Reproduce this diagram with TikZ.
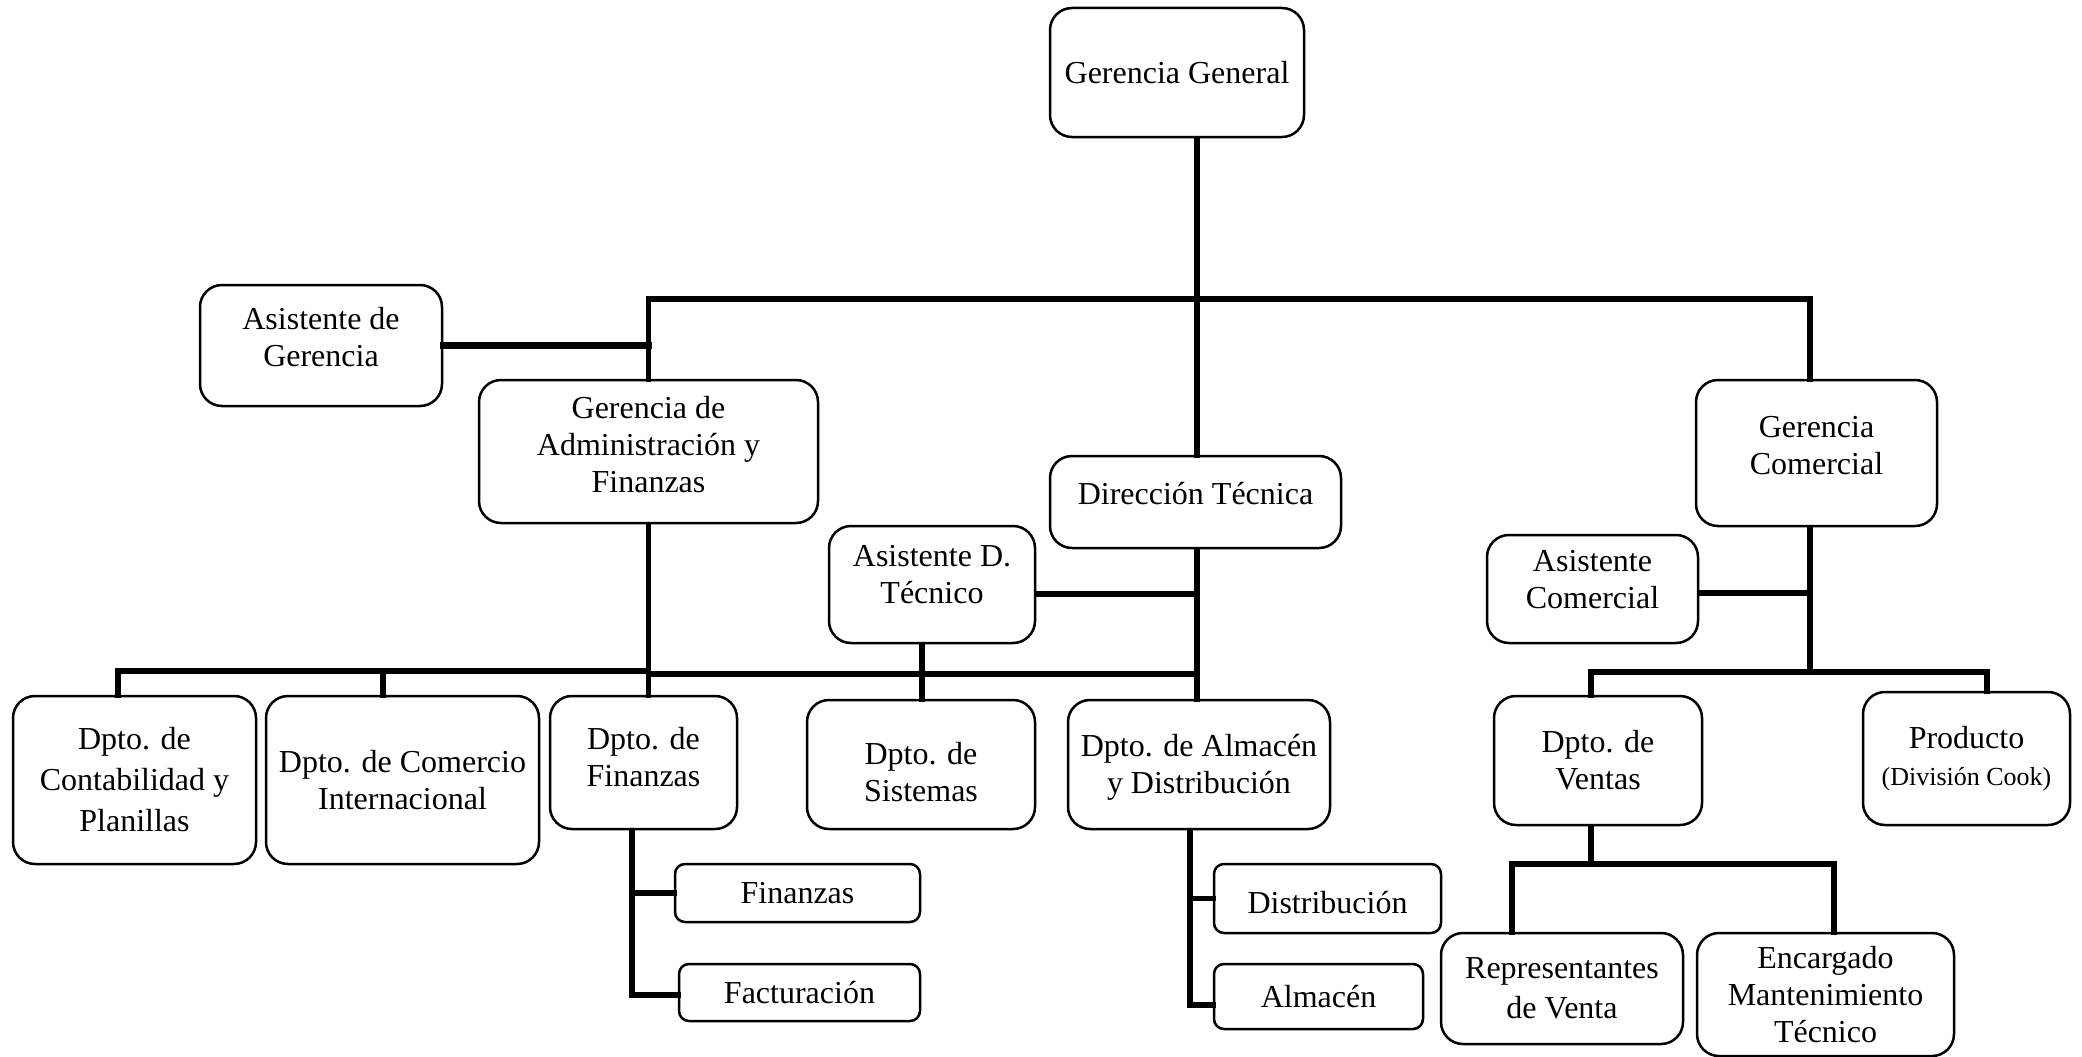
\documentclass[tikz,border=0pt]{standalone}
\usepackage{fontspec}
\setmainfont{Liberation Serif}
\begin{document}
\begin{tikzpicture}[x=1pt,y=-1pt,
  box/.style={draw, line width=2.5pt, rounded corners=22pt, align=center, inner sep=0pt,
    font=\fontsize{32}{37}\selectfont},
  sbox/.style={box, rounded corners=10pt},
  txt/.style={align=center, inner sep=0pt, font=\fontsize{32}{37}\selectfont},
  conn/.style={line width=5.5pt, line cap=rect}]
\useasboundingbox (0,0) rectangle (2082,1057);
% boxes
\node[box, minimum width=254pt, minimum height=129pt] (GG) at (1177,72.5) {Gerencia General};
\node[box, minimum width=242pt, minimum height=121pt] (AsG) at (321,345.5) {};
\node[txt] (AsGt) at ([yshift=8pt]AsG.center) {Asistente de\\Gerencia};
\node[box, minimum width=339pt, minimum height=143pt] (GAF) at (648.5,451.5) {};
\node[txt] (GAFt) at ([yshift=7pt]GAF.center) {Gerencia de\\Administración y\\Finanzas};
\node[box, minimum width=291pt, minimum height=92pt] (DT) at (1195.5,502) {};
\node[txt] (DTt) at ([yshift=8pt]DT.center) {Dirección Técnica};
\node[box, minimum width=241pt, minimum height=146pt] (GC) at (1816.5,453) {};
\node[txt] (GCt) at ([yshift=7pt]GC.center) {Gerencia\\Comercial};
\node[box, minimum width=206pt, minimum height=117pt] (ADT) at (932,584.5) {};
\node[txt] (ADTt) at ([yshift=10pt]ADT.center) {Asistente D.\\Técnico};
\node[box, minimum width=211pt, minimum height=108pt] (AC) at (1592.5,589) {};
\node[txt] (ACt) at ([yshift=9pt]AC.center) {Asistente\\Comercial};
\node[box, minimum width=243pt, minimum height=168pt, font=\fontsize{32}{41}\selectfont] (DC) at (134.5,780) {Dpto. de\\Contabilidad y\\Planillas};
\node[box, minimum width=273pt, minimum height=168pt] (DCI) at (402.5,780) {Dpto. de Comercio\\Internacional};
\node[box, minimum width=187pt, minimum height=133pt] (DF) at (643.5,762.5) {};
\node[txt] (DFt) at ([yshift=5pt]DF.center) {Dpto. de\\Finanzas};
\node[box, minimum width=228pt, minimum height=129pt] (DS) at (921,764.5) {};
\node[txt] (DSt) at ([yshift=-8pt]DS.center) {Dpto. de\\Sistemas};
\node[box, minimum width=262pt, minimum height=129pt] (DAD) at (1199,764.5) {};
\node[txt] (DADt) at ([yshift=-3pt]DAD.center) {Dpto. de Almacén\\y Distribución};
\node[box, minimum width=208pt, minimum height=129pt] (DV) at (1598,760.5) {Dpto. de\\Ventas};
\node[box, minimum width=207pt, minimum height=133pt] (PR) at (1966.5,758.5) {Producto\\{\fontsize{26}{30}\selectfont(División Cook)}};
\node[sbox, minimum width=245pt, minimum height=58pt] (FIN) at (797.5,893) {Finanzas};
\node[sbox, minimum width=241pt, minimum height=57pt] (FAC) at (799.5,992.5) {Facturación};
\node[sbox, minimum width=227pt, minimum height=69pt] (DIS) at (1327.5,898.5) {};
\node[txt] (DISt) at ([yshift=-4pt]DIS.center) {Distribución};
\node[sbox, minimum width=209pt, minimum height=65pt] (ALM) at (1318.5,996.5) {Almacén};
\node[box, minimum width=242pt, minimum height=111pt, font=\fontsize{32}{40}\selectfont] (REP) at (1562,988.5) {Representantes\\de Venta};
\node[box, minimum width=257pt, minimum height=123pt] (ENC) at (1825.5,994.5) {Encargado\\Mantenimiento\\Técnico};
% coordinates
\coordinate (b1) at (648.5,299);
\coordinate (b2) at (1810,299);
\coordinate (v1) at (1197,299);
\coordinate (l1) at (118,671);
\coordinate (l2) at (383,671);
\coordinate (l3) at (648.5,671);
\coordinate (r1) at (648.5,674);
\coordinate (r2) at (1197,674);
\coordinate (adt) at (1197,594);
\coordinate (adtv) at (922,674);
\coordinate (fv) at (632,995);
\coordinate (dv) at (1190,1005);
\coordinate (gcv) at (1810,672);
\coordinate (ac) at (1810,593);
\coordinate (c1) at (1591,672);
\coordinate (c2) at (1987,672);
\coordinate (vv) at (1591,864);
\coordinate (s1) at (1512,864);
\coordinate (s2) at (1834,864);
% connectors
\draw[conn] (GG.south -| v1) -- (v1 |- DT.north);
\draw[conn] (GAF.north) -- (b1) -- (b2) -- (b2 |- GC.north);
\draw[conn, line width=6.5pt] (AsG.east) -- (AsG.east -| b1);
\draw[conn] (GAF.south) -- (GAF.south |- DF.north);
\draw[conn] (l1 |- DC.north) -- (l1) -- (l3);
\draw[conn] (l2) -- (l2 |- DCI.north);
\draw[conn] (r1) -- (r2);
\draw[conn] (DT.south -| r2) -- (r2 |- DAD.north);
\draw[conn] (ADT.east |- adt) -- (adt);
\draw[conn] (adtv |- ADT.south) -- (adtv |- DS.north);
\draw[conn] (fv |- DF.south) -- (fv) -- (FAC.west |- fv);
\draw[conn] (fv |- FIN.west) -- (FIN.west);
\draw[conn] (dv |- DAD.south) -- (dv) -- (ALM.west |- dv);
\draw[conn] (dv |- DIS.west) -- (DIS.west);
\draw[conn] (GC.south -| gcv) -- (gcv);
\draw[conn] (AC.east |- ac) -- (ac);
\draw[conn] (c1 |- DV.north) -- (c1) -- (c2) -- (c2 |- PR.north);
\draw[conn] (vv |- DV.south) -- (vv);
\draw[conn, line width=6.5pt] (s1 |- REP.north) -- (s1) -- (s2) -- (s2 |- ENC.north);
\end{tikzpicture}
\end{document}
